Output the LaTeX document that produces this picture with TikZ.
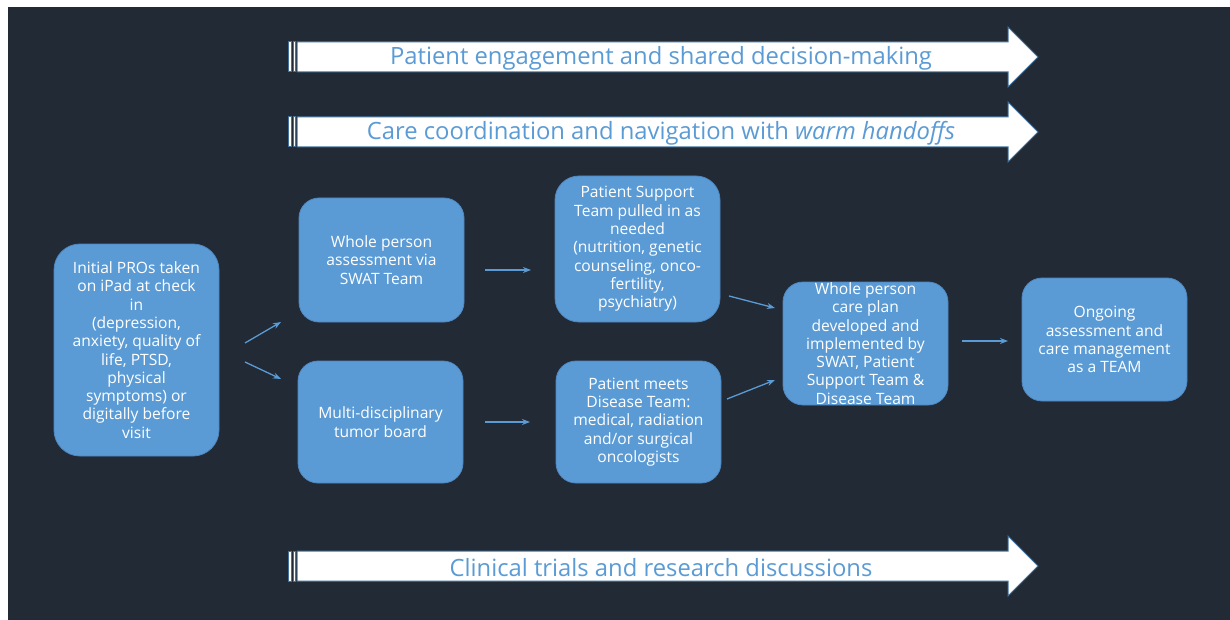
\documentclass[tikz,border=0pt]{standalone}
\usepackage{fontspec}
\setmainfont{Open Sans}
\usetikzlibrary{arrows.meta,calc}
\definecolor{bg}{HTML}{222A35}
\definecolor{boxblue}{HTML}{5B9BD5}
\definecolor{boxedge}{HTML}{4F87C0}
\definecolor{arrowedge}{HTML}{41719C}
\begin{document}
\begin{tikzpicture}[x=1pt,y=-1pt,
  box/.style={rectangle, rounded corners=20pt, fill=boxblue, draw=boxedge, line width=0.8pt,
    text=white, align=center, font=\fontsize{15.6}{18.3}\selectfont, inner sep=0pt,
    minimum width=165pt},
  link/.style={draw=boxblue, line width=1.3pt, -{Stealth[length=8pt,width=6pt]}},
  banner/.style={fill=white, draw=arrowedge, line width=1pt},
  bannertext/.style={text=boxblue, font=\fontsize{23.8}{28}\selectfont, inner sep=0pt}]
\useasboundingbox (0,0) rectangle (1230,620);
\fill[white] (0,0) rectangle (1230,620);
\fill[bg] (8,7) rectangle (1230,620);

% banner arrows
\foreach \cy in {57,132,566}{
  \draw[banner] (288.5,\cy-15) rectangle (291.2,\cy+15);
  \draw[banner] (293.2,\cy-15) rectangle (295.5,\cy+15);
  \draw[banner] (297,\cy-15) -- (1008,\cy-15) -- (1008,\cy-30) -- (1038,\cy)
     -- (1008,\cy+30) -- (1008,\cy+15) -- (297,\cy+15) -- cycle;
}
\node[bannertext] (t1) at (661,58.5) {Patient engagement and shared decision-making};
\node[bannertext] (t2) at (661,133.5) {Care coordination and navigation with \textit{warm handoffs}};
\node[bannertext] (t3) at (661,567.5) {Clinical trials and research discussions};

% boxes
\node[box, minimum height=212pt, rounded corners=26pt] (b1) at (136.5,350)
  {Initial PROs taken\\on iPad at check\\in\\(depression,\\anxiety, quality of\\life, PTSD,\\physical\\symptoms) or\\digitally before\\visit};
\node[box, minimum height=124pt] (b2) at (381.5,260)
  {Whole person\\assessment via\\SWAT Team};
\node[box, minimum height=122pt] (b3) at (380.5,422)
  {Multi-disciplinary\\tumor board};
\node[box, minimum height=146pt, rounded corners=24pt] (b4) at (637.5,249)
  {Patient Support\\Team pulled in as\\needed\\(nutrition, genetic\\counseling, onco-\\fertility,\\psychiatry)};
\node[box, minimum height=122pt] (b5) at (638.5,422)
  {Patient meets\\Disease Team:\\medical, radiation\\and/or surgical\\oncologists};
\node[box, minimum height=123pt, inner ysep=-4pt] (b6) at (865.5,343.5)
  {Whole person\\care plan\\developed and\\implemented by\\SWAT, Patient\\Support Team \&\\Disease Team};
\node[box, minimum height=123pt] (b7) at (1104.5,339.5)
  {Ongoing\\assessment and\\care management\\as a TEAM};

% connector end points
\coordinate (c1s) at (245,343); \coordinate (c1e) at (281,322);
\coordinate (c2s) at (245,362); \coordinate (c2e) at (281,379);
\coordinate (c3s) at (485,270); \coordinate (c3e) at (531,270);
\coordinate (c4s) at (485,422); \coordinate (c4e) at (530,422);
\coordinate (c5s) at (729,296); \coordinate (c5e) at (775,308);
\coordinate (c6s) at (727,399); \coordinate (c6e) at (775,380);
\coordinate (c7s) at (962,341); \coordinate (c7e) at (1008,341);
\foreach \i in {1,...,7}{\draw[link] (c\i s) -- (c\i e);}
\end{tikzpicture}
\end{document}
